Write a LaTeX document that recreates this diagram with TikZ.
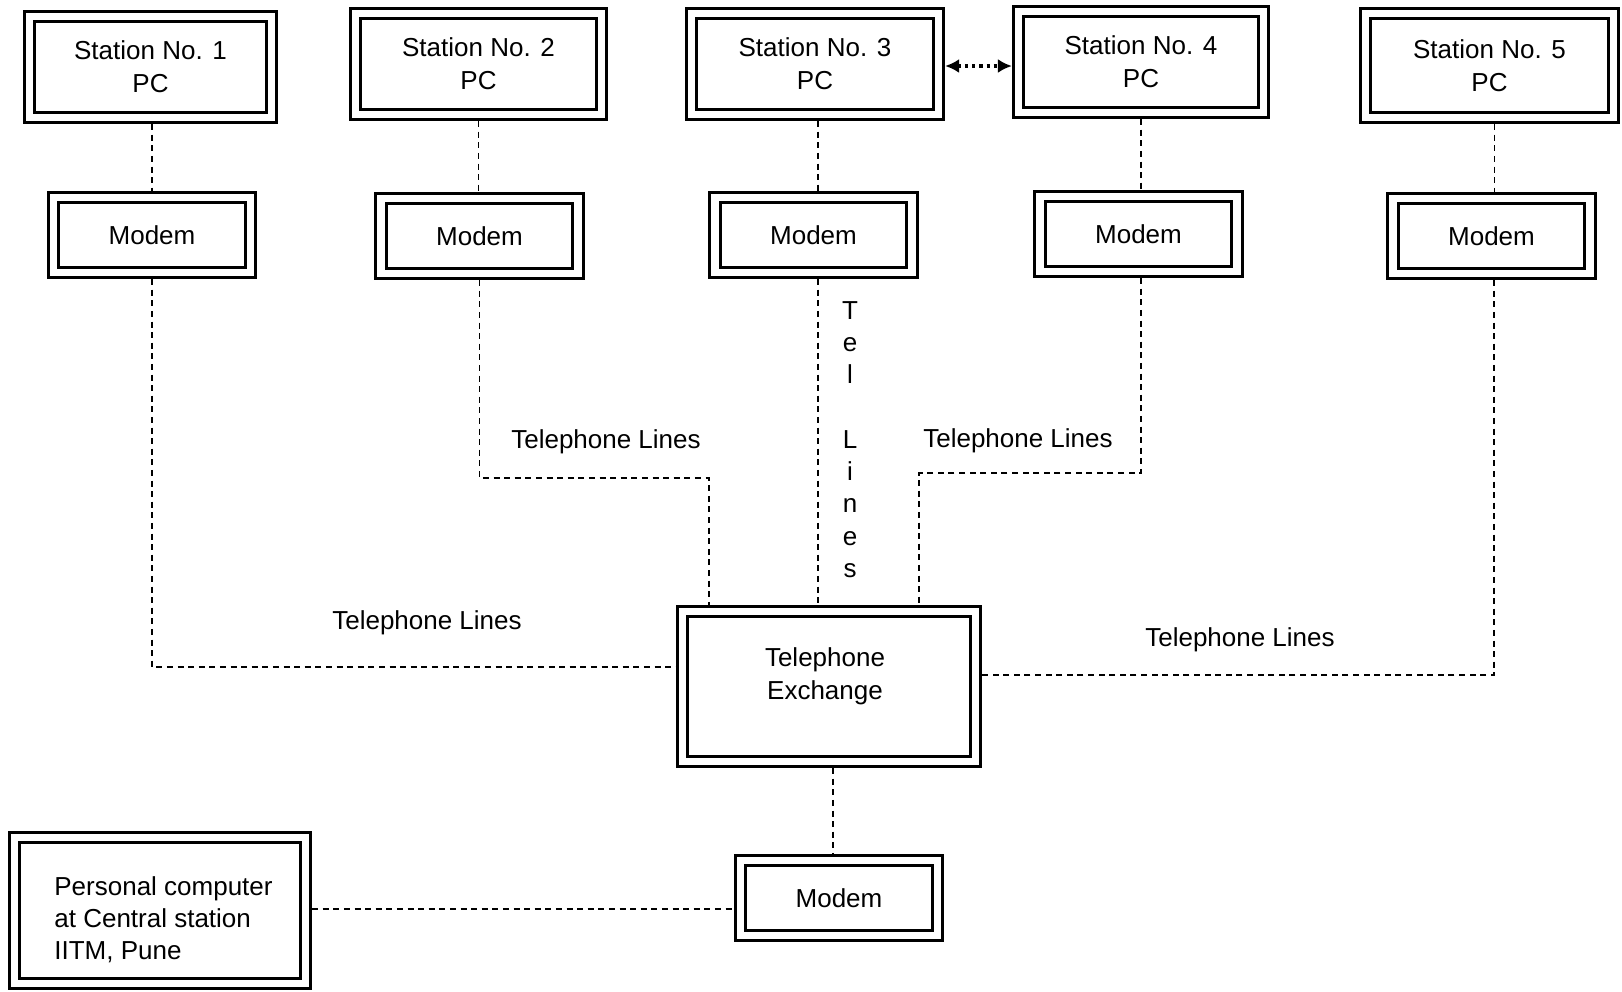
\documentclass[tikz,border=0pt]{standalone}
\usepackage{fontspec}
\setmainfont{Liberation Sans}
\usetikzlibrary{arrows.meta}
\begin{document}
\begin{tikzpicture}[x=0.5pt,y=-0.5pt,
  dbox/.style={draw, line width=1.5pt, double, double distance=3.6pt, outer sep=3.3pt, inner sep=0pt, align=center, font=\fontsize{13pt}{16.5pt}\selectfont},
  stbox/.style={dbox, minimum width=123pt, minimum height=50.5pt},
  mdbox/.style={dbox, minimum width=98.5pt, minimum height=37.5pt},
  link/.style={line width=0.9pt, dash pattern=on 3pt off 2.3pt},
  lbl/.style={inner sep=0pt, font=\fontsize{13pt}{16pt}\selectfont}]
\useasboundingbox (0,0) rectangle (1622,991);
\fill[white] (0,0) rectangle (1622,991);

% stations
\node[stbox, minimum width=121pt] (s1) at (150.5,67) {Station No. 1\\PC};
\node[stbox] (s2) at (478.5,64) {Station No. 2\\PC};
\node[stbox, minimum width=123.5pt] (s3) at (815,64) {Station No. 3\\PC};
\node[stbox, minimum width=122.5pt] (s4) at (1141,62) {Station No. 4\\PC};
\node[stbox, minimum width=124pt, minimum height=52pt] (s5) at (1489.5,65.5) {Station No. 5\\PC};

% modems
\node[mdbox] (m1) at (152,235) {Modem};
\node[mdbox] (m2) at (479.5,236) {Modem};
\node[mdbox] (m3) at (813.5,235) {Modem};
\node[mdbox] (m4) at (1138.5,234) {Modem};
\node[mdbox] (m5) at (1491.5,236) {Modem};

% exchange, bottom modem, central PC
\node[dbox, minimum width=146.5pt, minimum height=75pt] (ex) at (829,686.5) {};
\node[lbl, align=center, font=\fontsize{13pt}{16.5pt}\selectfont] (ext) at (825,676) {Telephone\\Exchange};
\node[mdbox] (bm) at (839,898) {Modem};
\node[dbox, minimum width=145.5pt, minimum height=73pt] (pc) at (160,910.5) {};
\node[lbl, align=left, anchor=west] (pct) at (54,920) {Personal computer\\at Central station\\IITM, Pune};

% station to modem links
\draw[link] (m1.north |- s1.south) -- (m1.north);
\draw[link] (s2.south) -- (s2.south |- m2.north);
\coordinate (c3) at ([xshift=1.5pt]s3.south);
\draw[link] (c3) -- (c3 |- m3.north);
\draw[link] (s4.south) -- (s4.south |- m4.north);
\coordinate (c5) at ([xshift=2.5pt]s5.south);
\draw[link] (c5) -- (c5 |- m5.north);

% modem to exchange links
\coordinate (e1) at ([yshift=9.75pt]ex.west);
\draw[link] (m1.south) |- (e1);
\draw[link] (m2.south) -- ++(0,198) -| ([xshift=-60pt]ex.north);
\coordinate (c3b) at ([xshift=2.25pt]m3.south);
\draw[link] (c3b) -- (c3b |- ex.north);
\draw[link] ([xshift=1.25pt]m4.south) -- ++(0,195) -| ([xshift=45pt]ex.north);
\coordinate (e5) at ([yshift=5.75pt]ex.east);
\draw[link] ([xshift=1.25pt]m5.south) |- (e5);

% exchange to bottom modem, bottom modem to PC
\coordinate (c6) at ([xshift=2pt]ex.south);
\draw[link] (c6) -- (c6 |- bm.north);
\coordinate (c7) at ([yshift=-5.5pt]bm.west);
\draw[link] (c7 -| pc.east) -- (c7);

% station 3 <-> station 4
\coordinate (a3) at ([yshift=-1pt]s3.east);
\draw[line width=1.6pt, dotted, {Latex[length=7pt,width=7pt]}-{Latex[length=7pt,width=7pt]}] (a3) -- (a3 -| s4.west);

% labels
\node[lbl] (t1) at (606,442) {Telephone Lines};
\node[lbl] (t2) at (1018,441) {Telephone Lines};
\node[lbl] (t3) at (427,623) {Telephone Lines};
\node[lbl] (t4) at (1240,640) {Telephone Lines};
\foreach \c/\k in {T/0,e/1,l/2,L/4,i/5,n/6,e/7,s/8}
  \node[lbl, anchor=base, name=v\k] at (850,{319+32.3*\k}) {\c};
\end{tikzpicture}
\end{document}
